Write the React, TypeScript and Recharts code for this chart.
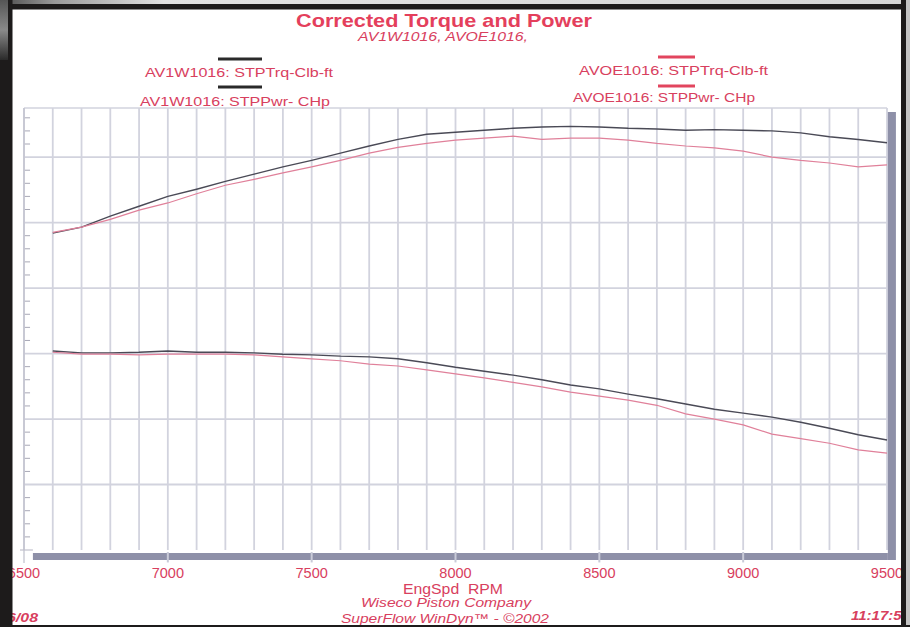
import React from 'react';
import { LineChart, Line, XAxis, YAxis, CartesianGrid, ReferenceLine, ReferenceArea } from 'recharts';

// Engine speed (RPM) sample points
const rpm = [6600, 6700, 6800, 6900, 7000, 7100, 7200, 7300, 7400, 7500, 7600, 7700, 7800, 7900, 8000,
  8100, 8200, 8300, 8400, 8500, 8600, 8700, 8800, 8900, 9000, 9100, 9200, 9300, 9400, 9500];

// Power curves (chart units, one major grid = 10)
const av1wPower = [48.4, 49.3, 51.0, 52.5, 54.0, 55.1, 56.3, 57.4, 58.5, 59.5, 60.6, 61.7, 62.7, 63.5, 63.8,
  64.1, 64.4, 64.6, 64.7, 64.6, 64.4, 64.3, 64.1, 64.2, 64.1, 64.0, 63.7, 63.1, 62.7, 62.2];
const avoePower = [48.5, 49.3, 50.5, 51.9, 53.0, 54.4, 55.7, 56.6, 57.6, 58.5, 59.5, 60.6, 61.5, 62.1, 62.6,
  62.9, 63.2, 62.7, 62.9, 62.9, 62.6, 62.1, 61.7, 61.4, 60.9, 60.0, 59.5, 59.1, 58.5, 58.8];

// Torque curves (chart units)
const av1wTorque = [30.4, 30.1, 30.1, 30.2, 30.4, 30.2, 30.2, 30.1, 29.9, 29.8, 29.6, 29.5, 29.2, 28.6, 27.9,
  27.3, 26.7, 26.0, 25.2, 24.6, 23.8, 23.1, 22.3, 21.5, 20.9, 20.3, 19.5, 18.6, 17.6, 16.8];
const avoeTorque = [30.2, 29.9, 29.9, 29.8, 29.9, 29.9, 29.9, 29.8, 29.5, 29.2, 28.9, 28.4, 28.1, 27.5, 26.9,
  26.3, 25.6, 24.9, 24.1, 23.5, 22.9, 22.1, 20.8, 20.0, 19.1, 17.7, 17.0, 16.3, 15.3, 14.8];

const xTicks = [6500, 7000, 7500, 8000, 8500, 9000, 9500];
const gridY = [10, 20, 30, 40, 50, 60];
const minorY = [2, 4, 6, 8, 12, 14, 16, 18, 22, 24, 26, 28, 32, 34, 36, 38, 42, 44, 46, 48, 52, 54, 56, 58, 62, 64, 66];
const barCross = [7000, 7500, 8000, 8500, 9000];

const gridRpm: number[] = [];
for (let r = 6500; r <= 9500; r += 100) gridRpm.push(r);

const rows = rpm.map((r, i) => ({
  rpm: r,
  av1wPwr: av1wPower[i],
  avoePwr: avoePower[i],
  av1wTrq: av1wTorque[i],
  avoeTrq: avoeTorque[i],
}));

const RED = '#d8405e';
const TITLE_RED = '#e43f5c';
const FONT = '"Liberation Sans", Arial, Helvetica, sans-serif';
const GRID = '#d2d3de';
const BAR = '#8e90a8';
const DARK = '#4a4a56';
const PINK = '#e0809a';
const FRAME = '#1d1b1b';

export default function App() {
  return (
    <div style={{ position: 'absolute', left: 0, top: 0, width: 910, height: 627, background: '#ffffff', overflow: 'hidden' }}>
      <LineChart width={910} height={627} data={rows} margin={{ top: 108, right: 23, bottom: 47, left: 24 }}>
        <CartesianGrid stroke={GRID} strokeWidth={1.8} verticalValues={gridRpm} horizontalValues={gridY} />
        <XAxis
          type="number"
          dataKey="rpm"
          domain={[6500, 9500]}
          ticks={xTicks}
          interval={0}
          axisLine={false}
          tickLine={false}
          tickSize={0}
          tickMargin={18}
          height={30}
          tick={{ fill: RED, fontSize: 14.5, fontFamily: FONT }}
        />
        <YAxis hide type="number" domain={[0, 67.5]} />
        <ReferenceLine y={67.5} stroke={GRID} strokeWidth={1.5} />
        <ReferenceLine x={6500} stroke="#bfc0cc" strokeWidth={1.2} />
        {minorY.map((v) => (
          <ReferenceLine key={'m' + v} segment={[{ x: 6503, y: v }, { x: 6521, y: v }]} stroke="#a8a8b6" strokeWidth={1} ifOverflow="visible" />
        ))}
        <ReferenceLine segment={[{ x: 6500, y: 0 }, { x: 6500, y: -2 }]} stroke="#bfc0cc" strokeWidth={1.2} ifOverflow="visible" />
        <ReferenceLine segment={[{ x: 6486, y: 0 }, { x: 6531, y: 0 }]} stroke="#bfc0cc" strokeWidth={1.2} ifOverflow="visible" />
        <ReferenceArea x1={6531} x2={9503} y1={-1.53} y2={-0.46} fill={BAR} fillOpacity={1} stroke="none" ifOverflow="visible" />
        <ReferenceArea x1={9503} x2={9531} y1={-1.53} y2={66.9} fill={BAR} fillOpacity={1} stroke="none" ifOverflow="visible" />
        {barCross.map((v) => (
          <ReferenceLine key={'b' + v} segment={[{ x: v, y: -0.3 }, { x: v, y: -1.9 }]} stroke="#c9cbd8" strokeWidth={2} ifOverflow="visible" />
        ))}
        <Line type="linear" dataKey="av1wPwr" stroke={DARK} strokeWidth={1.4} dot={false} isAnimationActive={false} />
        <Line type="linear" dataKey="av1wTrq" stroke={DARK} strokeWidth={1.4} dot={false} isAnimationActive={false} />
        <Line type="linear" dataKey="avoePwr" stroke={PINK} strokeWidth={1.2} dot={false} isAnimationActive={false} />
        <Line type="linear" dataKey="avoeTrq" stroke={PINK} strokeWidth={1.2} dot={false} isAnimationActive={false} />
      </LineChart>

      <svg width={910} height={627} style={{ position: 'absolute', left: 0, top: 0, pointerEvents: 'none' }}>
        <defs>
          <linearGradient id="topStrip" x1="0" y1="0" x2="1" y2="0">
            <stop offset="0" stopColor="#4a4a4a" />
            <stop offset="0.06" stopColor="#9a9a9a" />
            <stop offset="0.18" stopColor="#e2e2e2" />
            <stop offset="1" stopColor="#d6d6d6" />
          </linearGradient>
          <linearGradient id="leftPatch" x1="0" y1="0" x2="0" y2="1">
            <stop offset="0" stopColor="#555555" />
            <stop offset="0.5" stopColor="#8a8a8a" />
            <stop offset="1" stopColor="#2a2a2a" />
          </linearGradient>
        </defs>

        <g fontFamily={FONT}>
          <text x={296} y={27} fontSize={18.5} fontWeight="bold" fill={TITLE_RED} textLength={296} lengthAdjust="spacingAndGlyphs">Corrected Torque and Power</text>
          <text x={358} y={41} fontSize={12.5} fontStyle="italic" fill={RED} textLength={170} lengthAdjust="spacingAndGlyphs">AV1W1016, AVOE1016,</text>

          <line x1={218} y1={59} x2={262} y2={59} stroke="#2a2a2a" strokeWidth={3} />
          <text x={145} y={77} fontSize={13} fill={RED} textLength={188} lengthAdjust="spacingAndGlyphs">AV1W1016: STPTrq-Clb-ft</text>
          <line x1={218} y1={87} x2={262} y2={87} stroke="#2a2a2a" strokeWidth={3} />
          <text x={140} y={106} fontSize={13} fill={RED} textLength={190} lengthAdjust="spacingAndGlyphs">AV1W1016: STPPwr- CHp</text>

          <line x1={658} y1={57} x2={695} y2={57} stroke="#e2455e" strokeWidth={3} />
          <text x={579} y={75} fontSize={13} fill={RED} textLength={189} lengthAdjust="spacingAndGlyphs">AVOE1016: STPTrq-Clb-ft</text>
          <line x1={658} y1={86} x2={695} y2={86} stroke="#e2455e" strokeWidth={3} />
          <text x={573} y={102} fontSize={13} fill={RED} textLength={182} lengthAdjust="spacingAndGlyphs">AVOE1016: STPPwr- CHp</text>

          <text x={403} y={594} fontSize={14.5} fill={RED} textLength={100} lengthAdjust="spacingAndGlyphs" style={{ whiteSpace: 'pre' }}>EngSpd  RPM</text>
          <text x={361} y={607} fontSize={12.5} fontStyle="italic" fill={RED} textLength={170} lengthAdjust="spacingAndGlyphs">Wiseco Piston Company</text>
          <text x={341} y={622.5} fontSize={12.5} fontStyle="italic" fill={RED} textLength={208} lengthAdjust="spacingAndGlyphs">SuperFlow WinDyn™ - ©2002</text>
          <text x={7} y={622} fontSize={13} fontStyle="italic" fontWeight="bold" fill={RED} textLength={31} lengthAdjust="spacingAndGlyphs">6/08</text>
          <text x={851} y={620} fontSize={13} fontStyle="italic" fontWeight="bold" fill={RED} textLength={59} lengthAdjust="spacingAndGlyphs">11:17:54</text>
        </g>

        <rect x={0} y={0} width={910} height={4} fill="url(#topStrip)" />
        <rect x={0} y={4} width={910} height={5.5} fill={FRAME} />
        <rect x={0} y={0} width={12.5} height={627} fill={FRAME} />
        <rect x={0} y={0} width={8} height={60} fill="url(#leftPatch)" />
        <rect x={901} y={0} width={5} height={627} fill={FRAME} />
        <rect x={906} y={0} width={4} height={627} fill="#c4c4c4" />
        <rect x={0} y={625} width={910} height={2} fill={FRAME} />
      </svg>
    </div>
  );
}
